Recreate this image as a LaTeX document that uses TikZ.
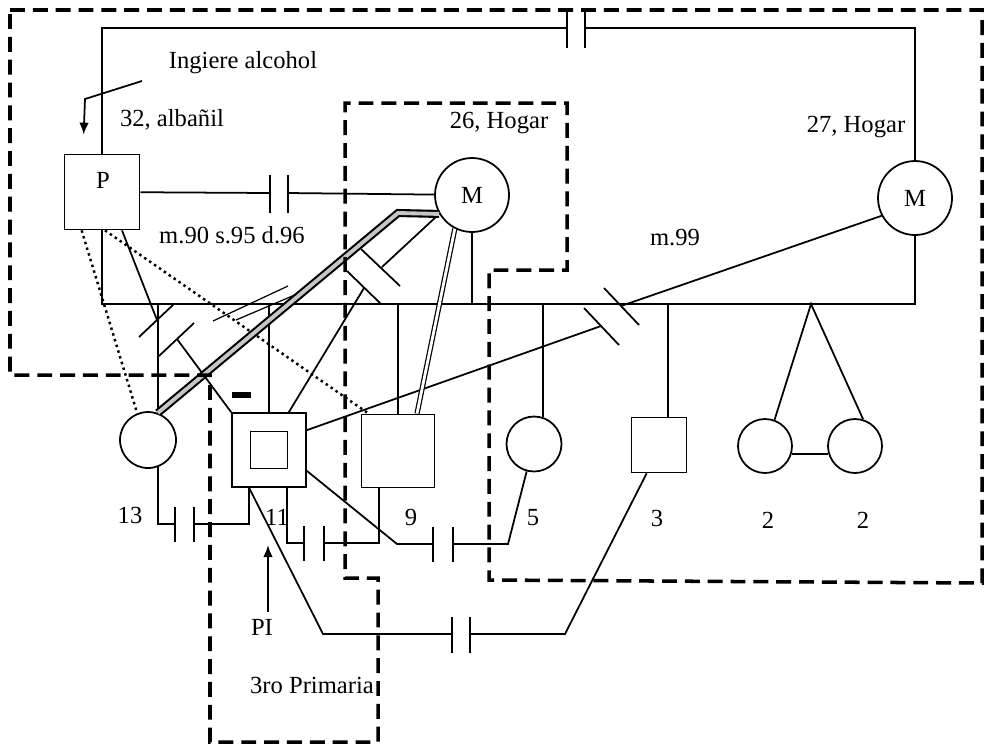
\documentclass[tikz,border=0pt]{standalone}
\usepackage{fontspec}
\setmainfont{Liberation Serif}
\usepackage{tikz}
\usetikzlibrary{%
  shapes,arrows,arrows.meta,positioning,calc}
\tikzstyle{line} = [draw, -{Latex[length=2.4mm,width=1.9mm]},line width=1pt,fill=none]
\pgfdeclarelayer{background}
\pgfdeclarelayer{foreground}
\pgfsetlayers{background,main,foreground}

\begin{document}
\begin{tikzpicture}[
    x=0.02cm, y=-0.02cm,
    line width=1pt,
    font=\fontsize{14}{16}\selectfont,
    male/.style={
      draw,
      rectangle,
      minimum size=1.5cm,
      inner sep=0pt
    },
    female/.style={
      draw,
      circle,
      minimum size=1.48cm,
      inner sep=0pt
    },
    rel/.style={
      draw,
      line width=1pt
    },
    distant/.style={
      draw,
      line width=1.4pt,
      dash pattern=on 1.4pt off 2pt
    },
    close/.style={
      draw,
      line width=.7pt,
      double,
      double distance=1.6pt
    },
    hostile/.style={
      draw,
      line width=1.2pt,
      double=gray!45,
      double distance=2.2pt
    },
    household/.style={
      draw,
      line width=2pt,
      dash pattern=on 8.5pt off 4.5pt
    }
  ]
  \useasboundingbox (0,0) rectangle (989,748);

  \node[male] (p) at (102,192) {};
  \node (plbl) at (103,180) {P};
  \node[female] (m1) at (472,195) {M};
  \node[female] (m2) at (915,198) {M};

  \node[female,minimum size=1.12cm] (h13) at (148,440) {};
  \node[male,minimum size=1.48cm] (pi) at (269,450) {};
  \node[male,minimum size=.74cm] (piin) at (pi) {};
  \node[male,minimum size=1.46cm] (h9) at (398,451) {};
  \node[female,minimum size=1.1cm] (h5) at (534,444) {};
  \node[male,minimum size=1.1cm] (h3) at (659,445) {};
  \node[female,minimum size=1.08cm] (t1) at (765,446) {};
  \node[female,minimum size=1.08cm] (t2) at (855,446) {};

  \node (alc) at (243,63) {Ingiere alcohol};
  \node (occp) at (172,120) {32, albañil};
  \node (occm1) at (499,123) {26, Hogar};
  \node (occm2) at (856,127) {27, Hogar};
  \node (datp) at (232,235) {m.90 s.95 d.96};
  \node (datm) at (675,238) {m.99};

  \node (a13) at (130,515) {13};
  \node (a11) at (277,517) {11};
  \node (a9) at (411,517) {9};
  \node (a5) at (533,518) {5};
  \node (a3) at (657,518) {3};
  \node (a2a) at (768,520) {2};
  \node (a2b) at (863,520) {2};

  \node (pitxt) at (262,627) {PI};
  \node (esc) at (312,685) {3ro Primaria};
  \node[fill,minimum width=.38cm,minimum height=.12cm,inner sep=0pt] (mark) at (241.5,395) {};

  % alcohol arrow
  \coordinate (ar0) at (142,81);
  \coordinate (ar1) at (85,99);
  \draw[line] (ar0) -- (ar1) -- ($(p.north west)+(20,-19)$);

  % index person arrow
  \coordinate (pia) at (268,545);
  \draw[line] ($(pitxt.north)+(6,0)$) -- (pia);

  % sibship line
  \coordinate (sl) at (102,304);
  \coordinate (sr) at (915,304);
  \draw[rel] (p) -- (sl) -- (sr) -- (m2);
  \draw[rel] (m1) -- (m1 |- sl);

  \draw[rel] (h13.70) -- (h13.70 |- sl);
  \draw[rel] (pi) -- (pi |- sl);
  \draw[rel] (h9) -- (h9 |- sl);
  \draw[rel] (h5.71) -- (h5.71 |- sl);
  \coordinate (s3) at (668,304);
  \draw[rel] (s3) -- (s3 |- h3.north);
  \coordinate (tw) at (811,304);
  \draw[rel] (t1.70) -- (tw) -- (t2.73);
  \draw[rel] (t1.-17) -- (t2.197);

  % P and M (27)
  \coordinate (ta) at (567,28);
  \coordinate (tb) at (585,28);
  \draw[rel] (p) |- (ta);
  \draw[rel] (tb) -| (m2);
  \draw[rel] (ta)+(0,-18) -- +(0,20);
  \draw[rel] (tb)+(0,-18) -- +(0,20);

  % P and M (26)
  \coordinate (pa) at (270,193);
  \coordinate (pb) at (288,193);
  \draw[rel] (p) -- (pa);
  \draw[rel] (pb) -- (m1);
  \draw[rel] (pa)+(0,-18) -- +(0,20);
  \draw[rel] (pb)+(0,-18) -- +(0,20);

  % siblings
  \coordinate (a1) at (175,524);
  \coordinate (a2) at (194,524);
  \draw[rel] (h13.290) |- (a1);
  \draw[rel] (a2) -| ($(pi.south west)+(18,0)$);
  \draw[rel] (a1)+(0,-17) -- +(0,18);
  \draw[rel] (a2)+(0,-17) -- +(0,18);

  \coordinate (b1) at (304,543);
  \coordinate (b2) at (324,543);
  \draw[rel] ($(pi.south)+(18,0)$) |- (b1);
  \draw[rel] (b2) -| ($(h9.south west)+(18,0)$);
  \draw[rel] (b1)+(0,-17) -- +(0,18);
  \draw[rel] (b2)+(0,-17) -- +(0,18);

  \coordinate (c0) at (397,544);
  \coordinate (c1) at (433,544);
  \coordinate (c2) at (453,544);
  \coordinate (c3) at (508,544);
  \draw[rel] ($(pi.south east)+(0,-17)$) -- (c0) -- (c1);
  \draw[rel] (c2) -- (c3) -- (h5.255);
  \draw[rel] (c1)+(0,-17) -- +(0,18);
  \draw[rel] (c2)+(0,-17) -- +(0,18);

  \coordinate (d0) at (323,634);
  \coordinate (d1) at (452,634);
  \coordinate (d2) at (470,634);
  \coordinate (d3) at (565,634);
  \draw[rel] ($(pi.south west)+(18,0)$) -- (d0) -- (d1);
  \draw[rel] (d2) -- (d3) -- ($(h3.south west)+(16,0)$);
  \draw[rel] (d1)+(0,-17) -- +(0,19);
  \draw[rel] (d2)+(0,-17) -- +(0,19);

  % parents to children
  \draw[distant] ($(p.south west)+(18,0)$) -- (h13.112);
  \draw[distant] ($(p.south)+(3,0)$) -- ($(h9.north west)+(8,0)$);

  \coordinate (e1) at (157,320);
  \coordinate (e2) at (177,339);
  \draw[rel] ($(p.south)+(20,0)$) -- (e1);
  \draw[rel] (e2) -- (pi.north west);
  \draw[rel] (e1)+(-18,17) -- +(17,-16);
  \draw[rel] (e2)+(-18,17) -- +(17,-16);

  \coordinate (f1) at (382,267);
  \coordinate (f2) at (364,288);
  \draw[rel] (m1.210) -- (f1);
  \draw[rel] (f2) -- ($(pi.north east)+(-18,0)$);
  \draw[rel] (f1)+(-21,-18) -- +(18,19);
  \draw[rel] (f2)+(-17,-17) -- +(17,16);

  \coordinate (g1) at (621,306);
  \coordinate (g2) at (601,326);
  \draw[rel] (m2.208) -- (g1);
  \draw[rel] (g2) -- ($(pi.north east)+(0,18)$);
  \draw[rel] (g1)+(-17,-18) -- +(18,19);
  \draw[rel] (g2)+(-17,-18) -- +(18,19);

  \coordinate (hk) at (398,213);
  \draw[hostile] (m1.210) -- (hk) -- (h13.70);
  \draw[close] (m1.243) -- ($(h9.north)+(19,0)$);

  \coordinate (k1) at (288,286);
  \coordinate (k2) at (213,321);
  \coordinate (k3) at (297,294);
  \coordinate (k4) at (236,320);
  \draw[rel,line width=.7pt] (k1) -- (k2);
  \draw[rel,line width=.7pt] (k3) -- (k4);

  \begin{pgfonlayer}{foreground}
    \draw[household] (10,10) -- (982,10) -- (982,583) -- (489,580)
      -- (489,270) -- (567,270) -- (567,103) -- (345,103) -- (345,578)
      -- (378,578) -- (378,742) -- (210,742) -- (210,375) -- (10,375) -- cycle;
  \end{pgfonlayer}

\end{tikzpicture}
\end{document}
